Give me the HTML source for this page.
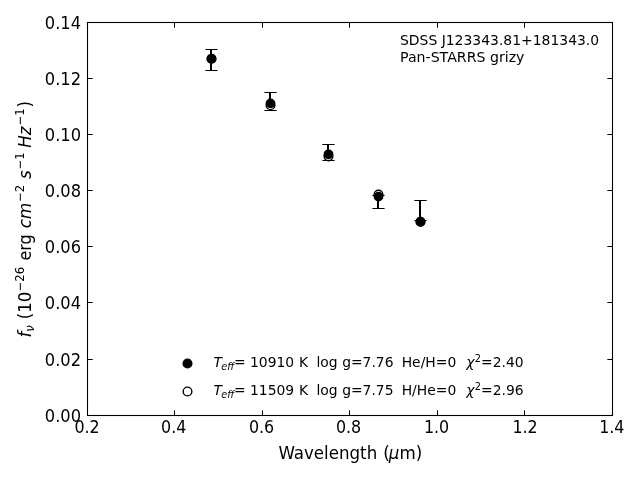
<!DOCTYPE html>
<html lang="en"><head><meta charset="utf-8"><title>SDSS J123343.81+181343.0</title>
<style>html,body{margin:0;padding:0;background:#fff;overflow:hidden}svg{display:block}text{font-family:"DejaVu Sans","Liberation Sans",sans-serif;fill:#000}.t12{font-size:16.667px}.t10{font-size:13.889px}.s12{font-size:11.667px}.s10{font-size:9.722px}.i{font-style:oblique}</style></head><body>
<svg width="640" height="480" viewBox="0 0 640 480">
<rect x="0" y="0" width="640" height="480" fill="#fff"/>
<g stroke="#000" stroke-width="1" fill="none">
<path d="M174.5 415.5V410.3M174.5 22.5V27.7M262.5 415.5V410.3M262.5 22.5V27.7M349.5 415.5V410.3M349.5 22.5V27.7M437.5 415.5V410.3M437.5 22.5V27.7M524.5 415.5V410.3M524.5 22.5V27.7M87.5 359.5H92.7M612.5 359.5H607.3M87.5 302.5H92.7M612.5 302.5H607.3M87.5 246.5H92.7M612.5 246.5H607.3M87.5 190.5H92.7M612.5 190.5H607.3M87.5 134.5H92.7M612.5 134.5H607.3M87.5 78.5H92.7M612.5 78.5H607.3"/>
<rect x="87.5" y="22.5" width="525.0" height="393.0" stroke-width="1.1"/>
</g>
<g stroke="#000" fill="none">
<path stroke-width="2" d="M211.0 49.5V70.5"/>
<path stroke-width="1.1" d="M205.4 49.5H217.6M205.4 70.5H217.6"/>
<path stroke-width="2" d="M270.0 92.5V110.5"/>
<path stroke-width="1.1" d="M264.4 92.5H276.6M264.4 110.5H276.6"/>
<path stroke-width="2" d="M328.0 144.5V160.5"/>
<path stroke-width="1.1" d="M322.4 144.5H334.6M322.4 160.5H334.6"/>
<path stroke-width="2" d="M378.0 195.5V208.5"/>
<path stroke-width="1.1" d="M372.4 195.5H384.6M372.4 208.5H384.6"/>
<path stroke-width="2" d="M420.0 200.5V220.5"/>
<path stroke-width="1.1" d="M414.4 200.5H426.6M414.4 220.5H426.6"/>
</g>
<g stroke="#000" stroke-width="1.4">
<circle cx="211.50" cy="58.70" r="4.35" fill="#fff"/>
<circle cx="211.50" cy="58.70" r="4.2" fill="#000"/>
<circle cx="270.50" cy="105.30" r="4.35" fill="#fff"/>
<circle cx="270.50" cy="103.35" r="4.2" fill="#000"/>
<circle cx="328.50" cy="156.35" r="4.35" fill="#fff"/>
<circle cx="328.50" cy="154.30" r="4.2" fill="#000"/>
<circle cx="378.50" cy="194.60" r="4.35" fill="#fff"/>
<circle cx="378.50" cy="196.60" r="4.2" fill="#000"/>
<circle cx="420.50" cy="221.75" r="4.35" fill="#fff"/>
<circle cx="420.50" cy="221.75" r="4.2" fill="#000"/>
<circle cx="187.5" cy="363.5" r="4.35" fill="#000"/>
<circle cx="187.5" cy="391.5" r="4.35" fill="#fff"/>
</g>
<text class="t12" text-anchor="middle" transform="translate(87.05 433.20) scale(0.9550 1.0600)">0.2</text>
<text class="t12" text-anchor="middle" transform="translate(173.70 433.20) scale(0.9550 1.0600)">0.4</text>
<text class="t12" text-anchor="middle" transform="translate(261.60 433.20) scale(0.9550 1.0600)">0.6</text>
<text class="t12" text-anchor="middle" transform="translate(348.60 433.20) scale(0.9550 1.0600)">0.8</text>
<text class="t12" text-anchor="middle" transform="translate(436.60 433.20) scale(0.9550 1.0600)">1.0</text>
<text class="t12" text-anchor="middle" transform="translate(525.10 433.20) scale(0.9550 1.0600)">1.2</text>
<text class="t12" text-anchor="middle" transform="translate(611.80 433.20) scale(0.9550 1.0600)">1.4</text>
<text class="t12" text-anchor="end" transform="translate(81.10 421.90) scale(0.9780 1.0600)">0.00</text>
<text class="t12" text-anchor="end" transform="translate(81.10 365.90) scale(0.9780 1.0600)">0.02</text>
<text class="t12" text-anchor="end" transform="translate(81.10 308.90) scale(0.9780 1.0600)">0.04</text>
<text class="t12" text-anchor="end" transform="translate(81.10 252.90) scale(0.9780 1.0600)">0.06</text>
<text class="t12" text-anchor="end" transform="translate(81.10 196.90) scale(0.9780 1.0600)">0.08</text>
<text class="t12" text-anchor="end" transform="translate(81.10 140.90) scale(0.9780 1.0600)">0.10</text>
<text class="t12" text-anchor="end" transform="translate(81.10 84.90) scale(0.9780 1.0600)">0.12</text>
<text class="t12" text-anchor="end" transform="translate(81.10 28.90) scale(0.9780 1.0600)">0.14</text>
<text class="t10" transform="translate(400.00 45.20) scale(1.0030 1.0300)">SDSS J123343.81+181343.0</text>
<text class="t10" transform="translate(400.00 62.10) scale(1.0190 1.0500)">Pan-STARRS grizy</text>
<text class="t12" transform="translate(278.40 458.90) scale(1.0000 1.0700)">Wavelength</text>
<text class="t12" transform="translate(383.13 458.90) scale(1.0000 1.0700)">(</text>
<text class="t12 i" transform="translate(388.83 458.90) scale(1.0000 1.0700)">μ</text>
<text class="t12" transform="translate(399.44 458.90) scale(1.0000 1.0700)">m)</text>
<g transform="translate(31.40 337.50) rotate(-90)">
<text class="t12 i" transform="translate(0.00 0.00) scale(1.0000 1.0700)">f</text>
<text class="s12 i" transform="translate(5.87 2.74) scale(1.0000 1.0700)">ν</text>
<text class="t12" transform="translate(18.14 0.00) scale(1.0000 1.0700)">(10</text>
<text class="s12" transform="translate(46.01 -6.99) scale(1.0000 1.0700)">−26</text>
<text class="t12" transform="translate(76.88 0.00) scale(0.9550 1.0700)">erg</text>
<text class="t12 i" transform="translate(109.37 0.00) scale(1.0000 1.0700)">cm</text>
<text class="s12" transform="translate(135.54 -6.99) scale(1.0000 1.0700)">−2</text>
<text class="t12 i" transform="translate(158.49 0.00) scale(1.0000 1.0700)">s</text>
<text class="s12" transform="translate(167.95 -6.99) scale(1.0000 1.0700)">−1</text>
<text class="t12 i" transform="translate(189.80 0.00) scale(1.0000 1.0700)">Hz</text>
<text class="s12" transform="translate(212.03 -6.99) scale(1.0000 1.0700)">−1</text>
<text class="t12" transform="translate(230.08 0.00) scale(1.0000 1.0700)">)</text>
</g>
<text class="t10 i" transform="translate(213.40 366.70) scale(1.0000 1.0200)">T</text>
<text class="s10 i" transform="translate(221.18 369.78) scale(1.0000 1.0200)">eff</text>
<text class="t10" transform="translate(234.09 366.70) scale(1.0000 1.0200)">=</text>
<text class="t10" transform="translate(250.04 366.70) scale(1.0000 1.0200)">10910</text>
<text class="t10" transform="translate(298.94 366.70) scale(1.0000 1.0200)">K</text>
<text class="t10" transform="translate(316.48 366.70) scale(1.0000 1.0200)">log</text>
<text class="t10" transform="translate(342.17 366.70) scale(1.0000 1.0200)">g=7.76</text>
<text class="t10" transform="translate(401.68 366.70) scale(1.0000 1.0200)">He/H=0</text>
<text class="t10 i" transform="translate(466.27 366.70) scale(1.0000 1.0200)">χ</text>
<text class="s10" transform="translate(474.81 362.28) scale(1.0000 1.0200)">2</text>
<text class="t10" transform="translate(481.08 366.70) scale(1.0000 1.0200)">=2.40</text>
<text class="t10 i" transform="translate(213.40 394.60) scale(1.0000 1.0200)">T</text>
<text class="s10 i" transform="translate(221.18 397.68) scale(1.0000 1.0200)">eff</text>
<text class="t10" transform="translate(234.09 394.60) scale(1.0000 1.0200)">=</text>
<text class="t10" transform="translate(250.04 394.60) scale(1.0000 1.0200)">11509</text>
<text class="t10" transform="translate(298.94 394.60) scale(1.0000 1.0200)">K</text>
<text class="t10" transform="translate(316.48 394.60) scale(1.0000 1.0200)">log</text>
<text class="t10" transform="translate(342.17 394.60) scale(1.0000 1.0200)">g=7.75</text>
<text class="t10" transform="translate(401.68 394.60) scale(1.0000 1.0200)">H/He=0</text>
<text class="t10 i" transform="translate(466.27 394.60) scale(1.0000 1.0200)">χ</text>
<text class="s10" transform="translate(474.81 390.18) scale(1.0000 1.0200)">2</text>
<text class="t10" transform="translate(481.08 394.60) scale(1.0000 1.0200)">=2.96</text>
</svg></body></html>
